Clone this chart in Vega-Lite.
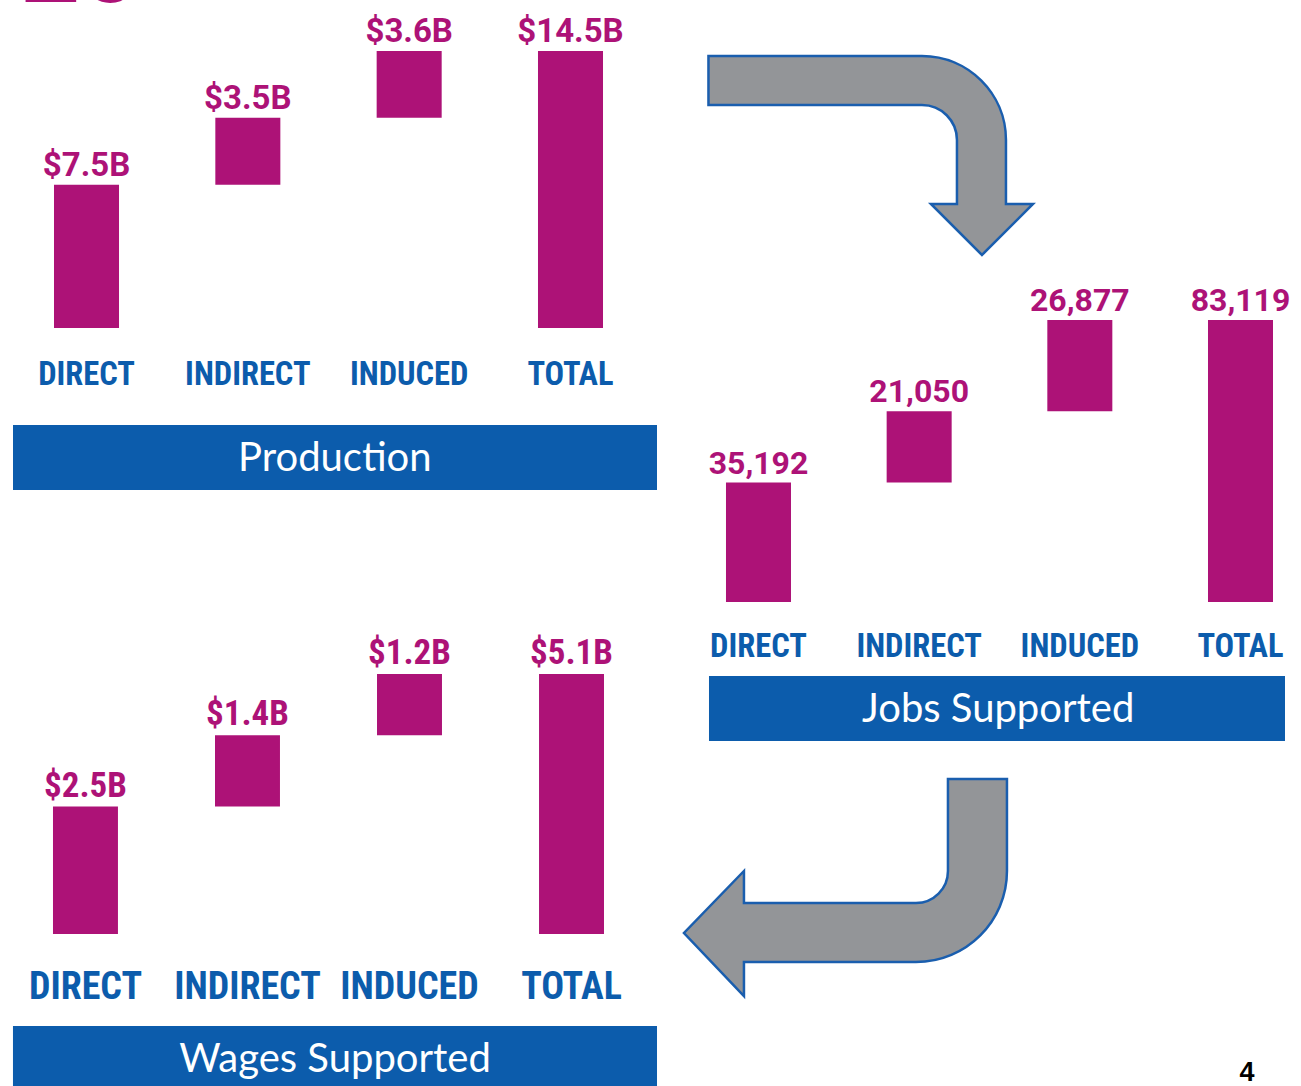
{
  "$schema": "https://vega.github.io/schema/vega-lite/v6.json",
  "width": 1301,
  "height": 1086,
  "autosize": {"type": "none"},
  "padding": 0,
  "background": "white",
  "config": {"view": {"stroke": null}},
  "datasets": {
    "production": [
      {"category": "DIRECT", "value": 7.5, "start": 0, "end": 7.5, "label": "$7.5B"},
      {"category": "INDIRECT", "value": 3.5, "start": 7.5, "end": 11.0, "label": "$3.5B"},
      {"category": "INDUCED", "value": 3.6, "start": 11.0, "end": 14.5, "label": "$3.6B"},
      {"category": "TOTAL", "value": 14.5, "start": 0, "end": 14.5, "label": "$14.5B"}
    ],
    "jobs": [
      {"category": "DIRECT", "value": 35192, "start": 0, "end": 35192, "label": "35,192"},
      {"category": "INDIRECT", "value": 21050, "start": 35192, "end": 56242, "label": "21,050"},
      {"category": "INDUCED", "value": 26877, "start": 56242, "end": 83119, "label": "26,877"},
      {"category": "TOTAL", "value": 83119, "start": 0, "end": 83119, "label": "83,119"}
    ],
    "wages": [
      {"category": "DIRECT", "value": 2.5, "start": 0, "end": 2.5, "label": "$2.5B"},
      {"category": "INDIRECT", "value": 1.4, "start": 2.5, "end": 3.9, "label": "$1.4B"},
      {"category": "INDUCED", "value": 1.2, "start": 3.9, "end": 5.1, "label": "$1.2B"},
      {"category": "TOTAL", "value": 5.1, "start": 0, "end": 5.1, "label": "$5.1B"}
    ]
  },
  "layer": [
    {
      "data": {"name": "production"},
      "layer": [
        {
          "mark": {"type": "bar", "color": "#AD1277"},
          "encoding": {
            "x": {"field": "category", "type": "nominal", "axis": null,
              "scale": {"type": "band", "domain": ["DIRECT", "INDIRECT", "INDUCED", "TOTAL"], "range": [13, 657], "paddingInner": 0.597, "paddingOuter": 0.2944, "align": 0.4316}},
            "y": {"field": "start", "type": "quantitative", "axis": null,
              "scale": {"domain": [0, 14.5], "range": [328, 51], "nice": false, "zero": false}},
            "y2": {"field": "end"}
          }
        },
        {
          "mark": {"type": "text", "font": "Roboto", "fontWeight": "bold", "fontSize": 33, "color": "#AD1277", "baseline": "alphabetic", "align": "center", "dy": -9},
          "encoding": {
            "x": {"field": "category", "type": "nominal", "axis": null},
            "y": {"field": "end", "type": "quantitative", "axis": null},
            "text": {"field": "label"}
          }
        },
        {
          "mark": {"type": "text", "font": "Roboto Condensed", "fontWeight": "bold", "fontSize": 32.5, "color": "#0C5CAC", "baseline": "alphabetic", "align": "center", "dy": 57},
          "encoding": {
            "x": {"field": "category", "type": "nominal", "axis": null},
            "y": {"datum": 0, "type": "quantitative", "axis": null},
            "text": {"field": "category"}
          }
        },
        {
          "data": {"values": [{"title": "Production"}]},
          "mark": {"type": "rect", "color": "#0C5CAC", "xOffset": -73.5, "x2Offset": 86.5, "yOffset": 97, "y2Offset": 162},
          "encoding": {
            "x": {"datum": "DIRECT", "type": "nominal", "axis": null, "bandPosition": 0.5},
            "x2": {"datum": "TOTAL"},
            "y": {"datum": 0, "type": "quantitative", "axis": null},
            "y2": {"datum": 0}
          }
        },
        {
          "data": {"values": [{"title": "Production"}]},
          "mark": {"type": "text", "font": "Lato", "fontSize": 40, "color": "white", "baseline": "middle", "align": "center", "dx": 87, "dy": 131},
          "encoding": {
            "x": {"datum": "INDIRECT", "type": "nominal", "axis": null},
            "y": {"datum": 0, "type": "quantitative", "axis": null},
            "text": {"field": "title"}
          }
        },
        {
          "data": {"values": [{"heading": "20"}]},
          "mark": {"type": "text", "font": "Roboto", "fontWeight": "bold", "fontSize": 104, "color": "#AD1277", "baseline": "alphabetic", "align": "left", "dx": -66, "dy": -49},
          "encoding": {
            "x": {"datum": "DIRECT", "type": "nominal", "axis": null},
            "y": {"datum": 14.5, "type": "quantitative", "axis": null},
            "text": {"field": "heading"}
          }
        }
      ]
    },
    {
      "data": {"name": "jobs"},
      "layer": [
        {
          "mark": {"type": "bar", "color": "#AD1277"},
          "encoding": {
            "x": {"field": "category", "type": "nominal", "axis": null,
              "scale": {"type": "band", "domain": ["DIRECT", "INDIRECT", "INDUCED", "TOTAL"], "range": [709, 1285], "paddingInner": 0.5954, "paddingOuter": 0.0902, "align": 0.586}},
            "y": {"field": "start", "type": "quantitative", "axis": null,
              "scale": {"domain": [0, 83119], "range": [602, 320], "nice": false, "zero": false}},
            "y2": {"field": "end"}
          }
        },
        {
          "mark": {"type": "text", "font": "Roboto", "fontWeight": "bold", "fontSize": 32, "color": "#AD1277", "baseline": "alphabetic", "align": "center", "dy": -9},
          "encoding": {
            "x": {"field": "category", "type": "nominal", "axis": null},
            "y": {"field": "end", "type": "quantitative", "axis": null},
            "text": {"field": "label"}
          }
        },
        {
          "mark": {"type": "text", "font": "Roboto Condensed", "fontWeight": "bold", "fontSize": 32.5, "color": "#0C5CAC", "baseline": "alphabetic", "align": "center", "dy": 55},
          "encoding": {
            "x": {"field": "category", "type": "nominal", "axis": null},
            "y": {"datum": 0, "type": "quantitative", "axis": null},
            "text": {"field": "category"}
          }
        },
        {
          "data": {"values": [{"title": "Jobs Supported"}]},
          "mark": {"type": "rect", "color": "#0C5CAC", "xOffset": -49.5, "x2Offset": 44.5, "yOffset": 74, "y2Offset": 139},
          "encoding": {
            "x": {"datum": "DIRECT", "type": "nominal", "axis": null, "bandPosition": 0.5},
            "x2": {"datum": "TOTAL"},
            "y": {"datum": 0, "type": "quantitative", "axis": null},
            "y2": {"datum": 0}
          }
        },
        {
          "data": {"values": [{"title": "Jobs Supported"}]},
          "mark": {"type": "text", "font": "Lato", "fontSize": 40, "color": "white", "baseline": "middle", "align": "center", "dx": 79, "dy": 108},
          "encoding": {
            "x": {"datum": "INDIRECT", "type": "nominal", "axis": null},
            "y": {"datum": 0, "type": "quantitative", "axis": null},
            "text": {"field": "title"}
          }
        },
        {
          "data": {"values": [{"arrow": "production to jobs"}]},
          "mark": {"type": "point", "shape": "M -210.7 -264 L 2.8 -264 A 84 84 0 0 1 86.8 -180 L 86.8 -116 L 113.8 -116 L 62.8 -65 L 11.8 -116 L 37.8 -116 L 37.8 -180 A 35 35 0 0 0 2.8 -215 L -210.7 -215 Z", "size": 4, "filled": true, "fill": "#939598", "stroke": "#1A5EAE", "strokeWidth": 2.5, "opacity": 1},
          "encoding": {
            "x": {"datum": "INDIRECT", "type": "nominal", "axis": null},
            "y": {"datum": 83119, "type": "quantitative", "axis": null}
          }
        },
        {
          "data": {"values": [{"arrow": "jobs to wages"}]},
          "mark": {"type": "point", "shape": "M 28.8 177 L 87.8 177 L 87.8 269 A 91 91 0 0 1 -3.2 360 L -175.2 360 L -175.2 394 L -235.2 331 L -175.2 269 L -175.2 301 L -3.2 301 A 32 32 0 0 0 28.8 269 Z", "size": 4, "filled": true, "fill": "#939598", "stroke": "#1A5EAE", "strokeWidth": 2.5, "opacity": 1},
          "encoding": {
            "x": {"datum": "INDIRECT", "type": "nominal", "axis": null},
            "y": {"datum": 0, "type": "quantitative", "axis": null}
          }
        },
        {
          "data": {"values": [{"page": "4"}]},
          "mark": {"type": "text", "font": "Liberation Sans", "fontWeight": "bold", "fontSize": 27, "color": "black", "baseline": "alphabetic", "align": "center", "dx": 6.5, "dy": 479},
          "encoding": {
            "x": {"datum": "TOTAL", "type": "nominal", "axis": null},
            "y": {"datum": 0, "type": "quantitative", "axis": null},
            "text": {"field": "page"}
          }
        }
      ]
    },
    {
      "data": {"name": "wages"},
      "layer": [
        {
          "mark": {"type": "bar", "color": "#AD1277"},
          "encoding": {
            "x": {"field": "category", "type": "nominal", "axis": null,
              "scale": {"type": "band", "domain": ["DIRECT", "INDIRECT", "INDUCED", "TOTAL"], "range": [13, 657], "paddingInner": 0.599, "paddingOuter": 0.287, "align": 0.43}},
            "y": {"field": "start", "type": "quantitative", "axis": null,
              "scale": {"domain": [0, 5.1], "range": [934, 674], "nice": false, "zero": false}},
            "y2": {"field": "end"}
          }
        },
        {
          "mark": {"type": "text", "font": "Roboto Condensed", "fontWeight": "bold", "fontSize": 35, "color": "#AD1277", "baseline": "alphabetic", "align": "center", "dy": -10},
          "encoding": {
            "x": {"field": "category", "type": "nominal", "axis": null},
            "y": {"field": "end", "type": "quantitative", "axis": null},
            "text": {"field": "label"}
          }
        },
        {
          "mark": {"type": "text", "font": "Roboto Condensed", "fontWeight": "bold", "fontSize": 38, "color": "#0C5CAC", "baseline": "alphabetic", "align": "center", "dy": 65},
          "encoding": {
            "x": {"field": "category", "type": "nominal", "axis": null},
            "y": {"datum": 0, "type": "quantitative", "axis": null},
            "text": {"field": "category"}
          }
        },
        {
          "data": {"values": [{"title": "Wages Supported"}]},
          "mark": {"type": "rect", "color": "#0C5CAC", "xOffset": -72.5, "x2Offset": 85.5, "yOffset": 92, "y2Offset": 165},
          "encoding": {
            "x": {"datum": "DIRECT", "type": "nominal", "axis": null, "bandPosition": 0.5},
            "x2": {"datum": "TOTAL"},
            "y": {"datum": 0, "type": "quantitative", "axis": null},
            "y2": {"datum": 0}
          }
        },
        {
          "data": {"values": [{"title": "Wages Supported"}]},
          "mark": {"type": "text", "font": "Lato", "fontSize": 40, "color": "white", "baseline": "middle", "align": "center", "dx": 87.5, "dy": 126},
          "encoding": {
            "x": {"datum": "INDIRECT", "type": "nominal", "axis": null},
            "y": {"datum": 0, "type": "quantitative", "axis": null},
            "text": {"field": "title"}
          }
        }
      ]
    }
  ],
  "resolve": {"scale": {"x": "independent", "y": "independent"}}
}
